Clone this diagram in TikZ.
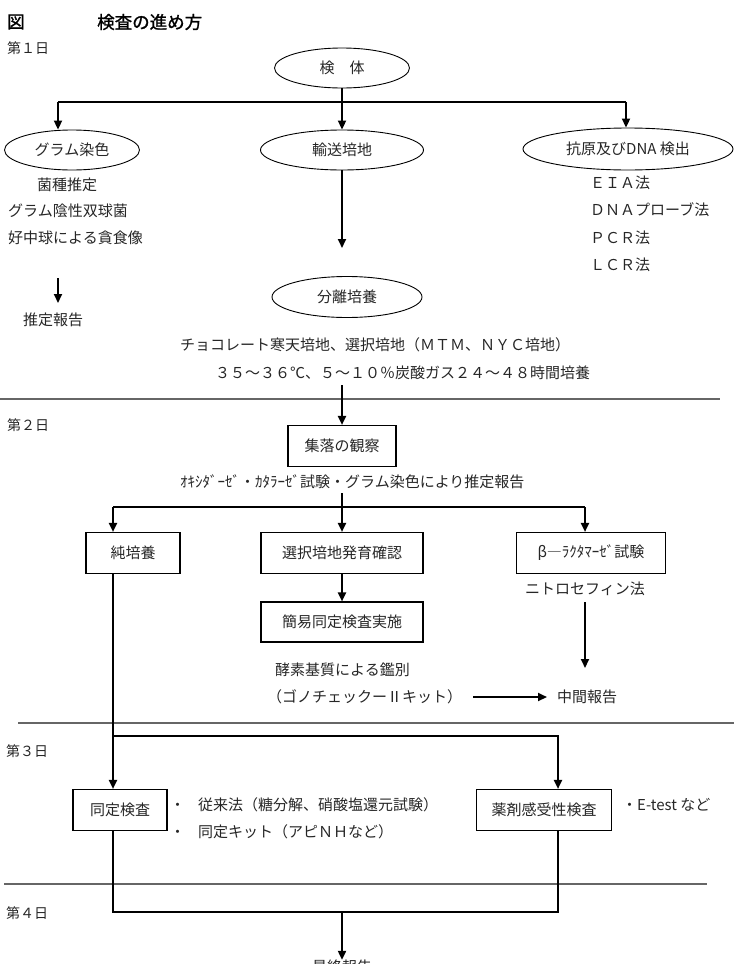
\documentclass[tikz,border=0pt]{standalone}
\usepackage{fontspec}
\newfontfamily\cjk{Noto Sans CJK JP}
\newfontfamily\cjkb[FakeBold=1.3]{Noto Sans CJK JP}
\usetikzlibrary{shapes.geometric,arrows.meta}
\begin{document}
\begin{tikzpicture}[x=1pt,y=-1pt]
\tikzset{
 ft/.style={font=\cjk\fontsize{15}{18}\selectfont},
 txt/.style={ft, anchor=west, inner sep=0pt, text=black!85},
 ell/.style={ft, ellipse, draw, line width=0.9pt, inner sep=0pt, minimum height=40pt, text=black!85},
 boxn/.style={ft, rectangle, draw, line width=1.1pt, inner sep=0pt, minimum height=41pt, text=black!85},
 conn/.style={line width=2pt},
 arr/.style={conn, -{Triangle[length=9pt,width=8pt]}},
 sep/.style={line width=1.3pt, draw=black!60},
 day/.style={txt, font=\cjk\fontsize{14}{16}\selectfont},
 ttl/.style={txt, font=\cjkb\fontsize{17.5}{20}\selectfont, text=black}
}
\clip (0,0) rectangle (734,964);
% title
\node[ttl] (fig) at (7,22) {図};
\node[ttl] (title) at (97,22) {検査の進め方};
\node[day] (d1) at (7,48) {第１日};
% day 1
\node[ell, minimum width=135pt] (kentai) at (342,68) {検　体};
\coordinate (t0) at (342,102);
\coordinate (tl) at (58,102);
\coordinate (tr) at (626,102);
\node[ell, minimum width=135pt] (gram) at (72,150) {グラム染色};
\node[ell, minimum width=163pt] (yuso) at (342,150) {輸送培地};
\node[ell, minimum width=210pt, minimum height=42pt] (kogen) at (628,149) {抗原及びDNA 検出};
\draw[conn] (kentai.south) -- (t0);
\draw[conn] (tl) -- (tr);
\draw[arr] (tl) -- (tl |- gram.north);
\draw[arr] (t0) -- (yuso.north);
\draw[arr] (tr) -- (tr |- kogen.north);
\node[txt] (kinshu) at (37,185) {菌種推定};
\node[txt] (inseil) at (8,211) {グラム陰性双球菌};
\node[txt] (kochu) at (8,238) {好中球による貪食像};
\coordinate (sa) at (58,278);
\coordinate (sb) at (58,303);
\draw[arr] (sa) -- (sb);
\node[txt] (suitei) at (23,320) {推定報告};
\node[txt] (eia) at (590,183) {ＥＩＡ法};
\node[txt] (dnap) at (590,210) {ＤＮＡプローブ法};
\node[txt] (pcr) at (590,238) {ＰＣＲ法};
\node[txt] (lcr) at (590,265) {ＬＣＲ法};
\coordinate (ya) at (342,248);
\draw[arr] (yuso.south) -- (ya);
\node[ell, minimum width=150pt, minimum height=41pt] (bunri) at (347,297) {分離培養};
\node[txt] (choco) at (180,345) {チョコレート寒天培地、選択培地（ＭＴＭ、ＮＹＣ培地）};
\node[txt] (temp) at (215,373) {３５～３６℃、５～１０％炭酸ガス２４～４８時間培養};
% separator day 2
\coordinate (s2a) at (0,399);
\coordinate (s2b) at (720,399);
\draw[sep] (s2a) -- (s2b);
\node[day] (d2) at (7,425) {第２日};
\coordinate (c2) at (342,385);
\node[boxn, minimum width=108pt] (shuraku) at (342,446) {集落の観察};
\draw[arr] (c2) -- (shuraku.north);
\node[txt] (oxi) at (180,482) {ｵｷｼﾀﾞｰｾﾞ・ｶﾀﾗｰｾﾞ試験・グラム染色により推定報告};
\coordinate (m0) at (342,493);
\coordinate (m1) at (342,507);
\coordinate (ml) at (113,507);
\coordinate (mr) at (585,507);
\draw[conn] (m0) -- (m1);
\draw[conn] (ml) -- (mr);
\node[boxn, minimum width=94pt] (jun) at (133,553) {純培養};
\node[boxn, minimum width=162pt] (sentaku) at (342,553) {選択培地発育確認};
\node[boxn, minimum width=149pt] (beta) at (591,553) {β―ﾗｸﾀﾏｰｾﾞ試験};
\draw[arr] (ml) -- (ml |- jun.north);
\draw[arr] (m1) -- (sentaku.north);
\draw[arr] (mr) -- (mr |- beta.north);
\node[boxn, minimum width=162pt, minimum height=40pt] (kani) at (342,622) {簡易同定検査実施};
\draw[arr] (sentaku.south) -- (kani.north);
\node[txt] (nitro) at (525,589) {ニトロセフィン法};
\coordinate (na) at (585,602);
\coordinate (nb) at (585,668);
\draw[arr] (na) -- (nb);
\node[txt] (koso) at (275,670) {酵素基質による鑑別};
\node[txt] (gono) at (267,697) {（ゴノチェックーⅡキット）};
\node[txt] (chukan) at (557,697) {中間報告};
\draw[arr] ([xshift=11pt]gono.east) -- ([xshift=-10pt]chukan.west);
% separator day 3
\coordinate (s3a) at (18,723);
\coordinate (s3b) at (734,723);
\draw[sep] (s3a) -- (s3b);
\node[day] (d3) at (6,751) {第３日};
\node[boxn, minimum width=94pt] (dotei) at (120,810) {同定検査};
\node[boxn, minimum width=135pt] (yakuzai) at (544,810) {薬剤感受性検査};
\coordinate (j0) at (113,574);
\coordinate (j1) at (113,736);
\coordinate (j2) at (558,736);
\draw[arr] (j0) -- (j0 |- dotei.north);
\draw[arr] (j1) -- (j2) -- (j2 |- yakuzai.north);
\node[txt] (b1) at (170,805) {・\hspace{13pt}従来法（糖分解、硝酸塩還元試験）};
\node[txt] (b2) at (170,832) {・\hspace{13pt}同定キット（アピＮＨなど）};
\node[txt] (etest) at (622,805) {・E-test など};
% separator day 4
\coordinate (s4a) at (4,884);
\coordinate (s4b) at (707,884);
\draw[sep] (s4a) -- (s4b);
\node[day] (d4) at (6,913) {第４日};
\coordinate (f0) at (113,831);
\coordinate (f1) at (113,912);
\coordinate (f2) at (558,912);
\coordinate (f3) at (558,831);
\coordinate (fm) at (342,912);
\draw[conn] (f0) -- (f1) -- (f2) -- (f3);
\node[ft, inner sep=0pt, text=black!85] (saishu) at (342,967) {最終報告};
\draw[arr] (fm) -- (saishu.north);
\end{tikzpicture}
\end{document}
